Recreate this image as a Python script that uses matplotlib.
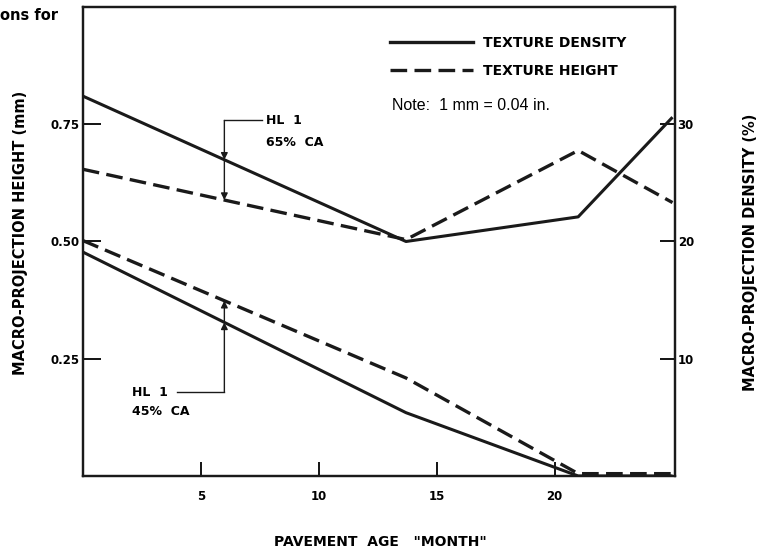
import numpy as np
import matplotlib.pyplot as plt
from matplotlib.lines import Line2D

# pavement age (months) at the break points of each curve
age = [0, 13.7, 21, 25]

# HL 1, 65% CA
dens_65 = [32.4, 20.0, 22.1, 30.6]      # macro-projection density (%)
height_65 = [0.654, 0.504, 0.694, 0.583]  # macro-projection height (mm)

# HL 1, 45% CA
dens_45 = [19.1, 5.4, 0.0, 0.0]
height_45 = [0.502, 0.209, 0.005, 0.005]

x_ticks = [5, 10, 15, 20]
left_ticks = [0.25, 0.50, 0.75]
right_ticks = [10, 20, 30]

arrow_age = 6.0

plt.rcParams['font.family'] = ['DejaVu Sans']

fig = plt.figure(figsize=(7.6, 5.59), dpi=100)
ax = fig.add_axes([0.109, 0.1485, 0.779, 0.839])
ax2 = ax.twinx()

dash = (5, 2.2)
ax2.plot(age, dens_65, color='#1a1a1a', lw=2.2, solid_capstyle='butt')
ax.plot(age, height_65, color='#1a1a1a', lw=2.4, dashes=dash)
ax2.plot(age, dens_45, color='#1a1a1a', lw=2.2, solid_capstyle='butt')
ax.plot(age, height_45, color='#1a1a1a', lw=2.4, dashes=dash)

ax.set_xlim(0, 25.1)
ax.set_ylim(0, 1.0)
ax2.set_ylim(0, 40)

tick_font = dict(fontsize=8.5, fontweight='bold')
ax.set_xticks(x_ticks)
ax.set_xticklabels([str(t) for t in x_ticks], **tick_font)
ax.set_yticks(left_ticks)
ax.set_yticklabels(['%.2f' % t for t in left_ticks], **tick_font)
ax2.set_yticks(right_ticks)
ax2.set_yticklabels([str(t) for t in right_ticks], **tick_font)

ax.tick_params(axis='x', direction='in', length=10, width=1.3, pad=10)
ax.tick_params(axis='y', direction='in', length=13, width=1.3, pad=2)
ax2.tick_params(axis='y', direction='in', length=11, width=1.3, pad=2)
for a in (ax, ax2):
    for s in a.spines.values():
        s.set_linewidth(1.6)
        s.set_color('#1a1a1a')

# intersections of the leader lines with the curves (left-axis units)
d65 = np.interp(arrow_age, age, dens_65) / 40
h65 = np.interp(arrow_age, age, height_65)
d45 = np.interp(arrow_age, age, dens_45) / 40
h45 = np.interp(arrow_age, age, height_45)

ap = dict(arrowstyle='-|>', color='#1a1a1a', lw=1.0, mutation_scale=10,
          shrinkA=0, shrinkB=0)
ann_font = dict(fontsize=9, fontweight='bold', va='center')

# upper annotation: HL 1 65% CA
top_y = 0.758
ax.plot([arrow_age, 7.6], [top_y, top_y], color='#1a1a1a', lw=1.0)
ax.annotate('', xy=(arrow_age, d65), xytext=(arrow_age, top_y), arrowprops=ap)
ax.annotate('', xy=(arrow_age, h65), xytext=(arrow_age, d65), arrowprops=ap)
ax.text(7.75, top_y, 'HL  1', **ann_font)
ax.text(7.75, 0.710, '65%  CA', **ann_font)

# lower annotation: HL 1 45% CA
bot_y = 0.179
ax.plot([4.0, arrow_age], [bot_y, bot_y], color='#1a1a1a', lw=1.0)
ax.annotate('', xy=(arrow_age, d45), xytext=(arrow_age, bot_y), arrowprops=ap)
ax.annotate('', xy=(arrow_age, h45), xytext=(arrow_age, d45), arrowprops=ap)
ax.text(2.1, bot_y, 'HL  1', **ann_font)
ax.text(2.1, 0.137, '45%  CA', **ann_font)

# legend
handles = [Line2D([], [], color='#1a1a1a', lw=2.4),
           Line2D([], [], color='#1a1a1a', lw=2.4, dashes=dash)]
leg = ax.legend(handles, ['TEXTURE DENSITY', 'TEXTURE HEIGHT'],
                loc='upper left', bbox_to_anchor=(383 / 760, 1 - 29 / 559),
                bbox_transform=fig.transFigure, frameon=False,
                handlelength=6.0, handletextpad=0.7, labelspacing=1.0,
                borderpad=0, prop={'size': 10, 'weight': 'bold'})

ax.text(392 / 760, 1 - 106 / 559, 'Note:  1 mm = 0.04 in.', transform=fig.transFigure,
        fontsize=11.5, va='center', family='Liberation Sans')

ax.set_ylabel('MACRO-PROJECTION HEIGHT (mm)', fontsize=10.5, fontweight='bold')
ax.yaxis.set_label_coords(28 / 760, 1 - 233 / 559, transform=fig.transFigure)
ax2.set_ylabel('MACRO-PROJECTION DENSITY (%)', fontsize=10.5, fontweight='bold',
               rotation=90)
ax2.yaxis.set_label_coords(743 / 760, 1 - 252 / 559, transform=fig.transFigure)

fig.text(380 / 760, 1 - 542 / 559, 'PAVEMENT  AGE   "MONTH"', fontsize=10,
         fontweight='bold', ha='center', va='center')
fig.text(0.0, 1 - 15 / 559, 'ons for', fontsize=10.5, fontweight='bold', va='center')

fig.savefig('out.png', dpi=100)
